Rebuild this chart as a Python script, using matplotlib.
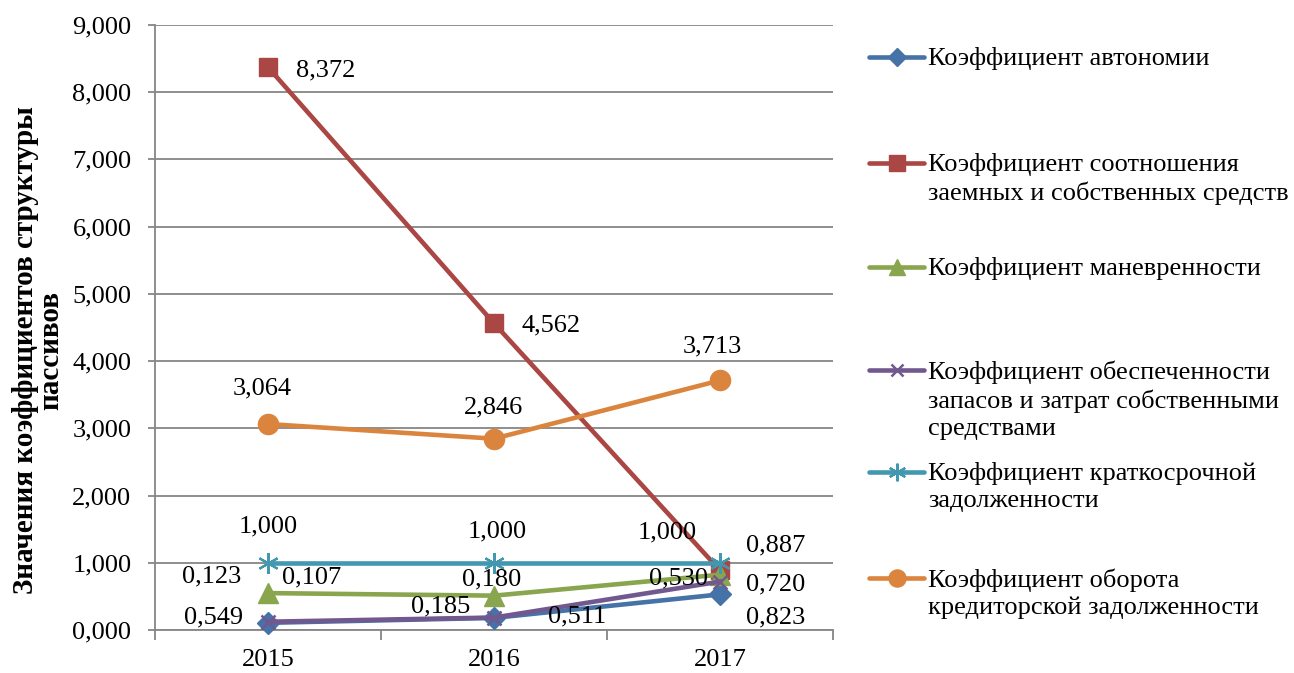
import matplotlib
matplotlib.use('Agg')
import matplotlib.pyplot as plt

plt.rcParams['font.family'] = ['Liberation Serif', 'DejaVu Serif']

# Data
years = ['2015', '2016', '2017']
autonomy = [0.107, 0.180, 0.530]
debt_equity = [8.372, 4.562, 0.887]
maneuver = [0.549, 0.511, 0.823]
coverage = [0.123, 0.185, 0.720]
short_debt = [1.000, 1.000, 1.000]
turnover = [3.064, 2.846, 3.713]

names = [
    'Коэффициент автономии',
    'Коэффициент соотношения\nзаемных и собственных средств',
    'Коэффициент маневренности',
    'Коэффициент обеспеченности\nзапасов и затрат собственными\nсредствами',
    'Коэффициент краткосрочной\nзадолженности',
    'Коэффициент оборота\nкредиторской задолженности',
]
series = [autonomy, debt_equity, maneuver, coverage, short_debt, turnover]

# styles: color, marker, marker size, marker edge width
styles = [
    ('#4572A7', 'D', 11, 1),
    ('#AA4643', 's', 13, 1),
    ('#89A54E', '^', 14, 1),
    ('#71588F', 'x', 10, 1.8),
    ('#4198AF', (6, 2, 0), 15, 1.6),
    ('#DB843D', 'o', 14.5, 1),
]

# label offsets in pixels (dx, dy up) for each point
offsets = [
    [(44, 45), (-2, 38), (-41, 16)],
    [(58, -3), (57, -2), (56, 25)],
    [(-54, -24), (83, -21), (56, -43)],
    [(-56, 45), (-53, 11), (56, -3)],
    [(0, 36), (3, 31), (-53, 30)],
    [(-6, 36), (0, 31), (-8, 34)],
]

# legend first-line y positions (pixels from top)
legend_y = [57, 163, 267, 370, 472, 578]

FS = 19
W, H = 1294, 673
fig = plt.figure(figsize=(W / 100, H / 100), dpi=100)
ax = fig.add_axes([155 / W, 43 / H, (833 - 155) / W, (630 - 25) / H])

x = list(range(len(years)))
for vals, (color, marker, ms, mew) in zip(series, styles):
    ax.plot(x, vals, color=color, lw=3.3, marker=marker, markersize=ms,
            markerfacecolor=color, markeredgecolor=color, markeredgewidth=mew,
            clip_on=False, zorder=3)

for vals, offs in zip(series, offsets):
    for i, v in enumerate(vals):
        ax.annotate(f'{v:.3f}'.replace('.', ','), (i, v), xytext=offs[i],
                    textcoords='offset pixels', ha='center', va='center',
                    fontsize=FS, annotation_clip=False, zorder=5)

ax.set_xlim(-0.5, 2.5)
ax.set_ylim(0, 9)
ax.set_yticks(range(10))
ax.set_yticklabels([f'{t:.3f}'.replace('.', ',') for t in range(10)], fontsize=FS)
ax.set_xticks(x)
ax.set_xticklabels(years, fontsize=FS)
ax.set_xticks([-0.5, 0.5, 1.5, 2.5], minor=True)
ax.tick_params(axis='x', which='major', length=0, pad=14)
ax.tick_params(axis='x', which='minor', length=7, color='#868686', width=1.3)
ax.tick_params(axis='y', length=5, color='#868686', width=1.3, pad=12)

ax.yaxis.grid(True, color='#868686', lw=1.3)
ax.set_axisbelow(True)
for s in ['top', 'right']:
    ax.spines[s].set_visible(False)
for s in ['left', 'bottom']:
    ax.spines[s].set_color('#868686')
    ax.spines[s].set_linewidth(1.3)

fig.text(38 / W, 1 - 350 / H, 'Значения коэффициентов структуры\nпассивов',
         rotation=90, ha='center', va='center', fontsize=21, fontweight='bold',
         multialignment='center', linespacing=0.95)

# legend drawn in pixel coordinates
lax = fig.add_axes([0, 0, 1, 1])
lax.set_xlim(0, W)
lax.set_ylim(H, 0)
lax.axis('off')
for name, (color, marker, ms, mew), y in zip(names, styles, legend_y):
    lax.plot([869, 924], [y, y], color=color, lw=3.3, solid_capstyle='round')
    lax.plot([897], [y], marker=marker, markersize=ms * 0.85, color=color,
             markeredgecolor=color, markeredgewidth=mew)
    lax.text(928, y - 10, name, ha='left', va='top', fontsize=FS,
             linespacing=1.3)

fig.savefig('out.png', dpi=100)
